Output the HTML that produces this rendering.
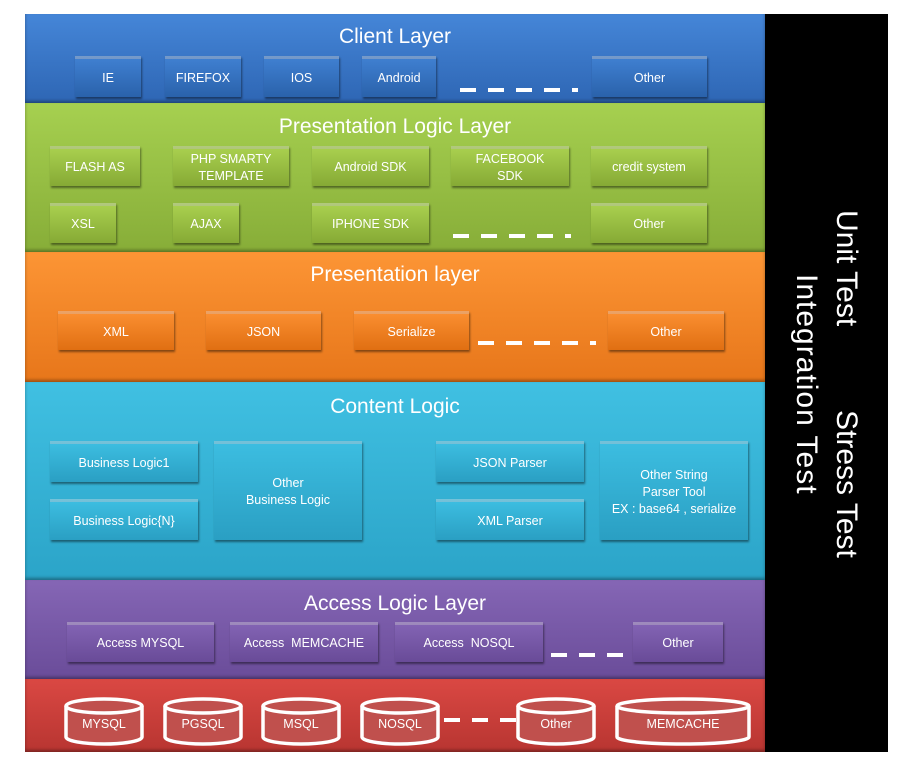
<!DOCTYPE html>
<html><head><meta charset="utf-8"><style>
body{margin:0;width:920px;height:767px;background:#fff;position:relative;overflow:hidden;font-family:"Liberation Sans",sans-serif}
.L{position:absolute;left:25px;width:740px;box-shadow:inset 0 -2px 3px rgba(0,0,0,.35)}
.t{position:absolute;left:25px;width:740px;text-align:center;color:#fff;font-size:21px}
.b{position:absolute;color:#fff;font-size:12.5px;text-align:center;display:flex;align-items:center;justify-content:center;line-height:17px;box-shadow:1px 2px 2px rgba(0,0,0,.45);border-top:3px solid rgba(255,255,255,.35)}
.blue{background:linear-gradient(#3f7fd0,#2a62ab)}
.green{background:linear-gradient(#a8cf4e,#86aa35)}
.orange{background:linear-gradient(#fa8e30,#e06f12)}
.cyan{background:linear-gradient(#3cbde0,#2a9fc3)}
.purple{background:linear-gradient(#8263b3,#694b98)}
.d{position:absolute;height:4px;background:repeating-linear-gradient(90deg,#fff 0 16px,transparent 16px 28px)}
.v{position:absolute;color:#fff;font-size:30px;white-space:nowrap;transform-origin:0 0;transform:rotate(90deg)}
</style></head><body>
<div class="L" style="top:14px;height:89px;background:linear-gradient(#4586d8,#2e66b4)"></div>
<div class="L" style="top:103px;height:149px;background:linear-gradient(#a6d050,#87ad38)"></div>
<div class="L" style="top:252px;height:130px;background:linear-gradient(#fc9535,#e7761a)"></div>
<div class="L" style="top:382px;height:198px;background:linear-gradient(#40c0e2,#2ba4c8)"></div>
<div class="L" style="top:580px;height:99px;background:linear-gradient(#8566b5,#6a4c99)"></div>
<div class="L" style="top:679px;height:73px;background:linear-gradient(#da4843,#b83531)"></div>
<div style="position:absolute;left:765px;top:14px;width:123px;height:738px;background:#000"></div>

<div class="t" style="top:25px">Client Layer</div>
<div class="t" style="top:115px">Presentation Logic Layer</div>
<div class="t" style="top:263px">Presentation layer</div>
<div class="t" style="top:395px">Content Logic</div>
<div class="t" style="top:592px">Access Logic Layer</div>

<div class="b blue" style="left:75px;top:56px;width:66px;height:38px">IE</div>
<div class="b blue" style="left:165px;top:56px;width:76px;height:38px">FIREFOX</div>
<div class="b blue" style="left:264px;top:56px;width:75px;height:38px">IOS</div>
<div class="b blue" style="left:362px;top:56px;width:74px;height:38px">Android</div>
<div class="b blue" style="left:592px;top:56px;width:115px;height:38px">Other</div>
<div class="d" style="left:460px;top:88px;width:118px"></div>

<div class="b green" style="left:50px;top:146px;width:90px;height:37px">FLASH AS</div>
<div class="b green" style="left:173px;top:146px;width:116px;height:37px">PHP SMARTY<br>TEMPLATE</div>
<div class="b green" style="left:312px;top:146px;width:117px;height:37px">Android SDK</div>
<div class="b green" style="left:451px;top:146px;width:118px;height:37px">FACEBOOK<br>SDK</div>
<div class="b green" style="left:591px;top:146px;width:116px;height:37px">credit system</div>
<div class="b green" style="left:50px;top:203px;width:66px;height:37px">XSL</div>
<div class="b green" style="left:173px;top:203px;width:66px;height:37px">AJAX</div>
<div class="b green" style="left:312px;top:203px;width:117px;height:37px">IPHONE SDK</div>
<div class="b green" style="left:591px;top:203px;width:116px;height:37px">Other</div>
<div class="d" style="left:453px;top:234px;width:118px"></div>

<div class="b orange" style="left:58px;top:311px;width:116px;height:36px">XML</div>
<div class="b orange" style="left:206px;top:311px;width:115px;height:36px">JSON</div>
<div class="b orange" style="left:354px;top:311px;width:115px;height:36px">Serialize</div>
<div class="b orange" style="left:608px;top:311px;width:116px;height:36px">Other</div>
<div class="d" style="left:478px;top:341px;width:118px"></div>

<div class="b cyan" style="left:50px;top:441px;width:148px;height:38px">Business Logic1</div>
<div class="b cyan" style="left:50px;top:499px;width:148px;height:38px">Business Logic{N}</div>
<div class="b cyan" style="left:214px;top:441px;width:148px;height:96px">Other<br>Business Logic</div>
<div class="b cyan" style="left:436px;top:441px;width:148px;height:38px">JSON Parser</div>
<div class="b cyan" style="left:436px;top:499px;width:148px;height:38px">XML Parser</div>
<div class="b cyan" style="left:600px;top:441px;width:148px;height:96px">Other String<br>Parser Tool<br>EX : base64 , serialize</div>

<div class="b purple" style="left:67px;top:622px;width:147px;height:37px">Access MYSQL</div>
<div class="b purple" style="left:230px;top:622px;width:148px;height:37px">Access &nbsp;MEMCACHE</div>
<div class="b purple" style="left:395px;top:622px;width:148px;height:37px">Access &nbsp;NOSQL</div>
<div class="b purple" style="left:633px;top:622px;width:90px;height:37px">Other</div>
<div class="d" style="left:551px;top:653px;width:72px"></div>

<svg style="position:absolute;left:0;top:0" width="920" height="767">
<g fill="#c0504d" stroke="#fff" stroke-width="3.5">
<path d="M66 706 v31 a38 7 0 0 0 76 0 v-31"/><ellipse cx="104" cy="706" rx="38" ry="7"/>
<path d="M165 706 v31 a38 7 0 0 0 76 0 v-31"/><ellipse cx="203" cy="706" rx="38" ry="7"/>
<path d="M263 706 v31 a38 7 0 0 0 76 0 v-31"/><ellipse cx="301" cy="706" rx="38" ry="7"/>
<path d="M362 706 v31 a38 7 0 0 0 76 0 v-31"/><ellipse cx="400" cy="706" rx="38" ry="7"/>
<path d="M518 706 v31 a38 7 0 0 0 76 0 v-31"/><ellipse cx="556" cy="706" rx="38" ry="7"/>
<path d="M617 706 v31 a66 7 0 0 0 132 0 v-31"/><ellipse cx="683" cy="706" rx="66" ry="7"/>
</g>
<g fill="#fff" font-family="Liberation Sans,sans-serif" font-size="12.5" text-anchor="middle">
<text x="104" y="728">MYSQL</text><text x="203" y="728">PGSQL</text><text x="301" y="728">MSQL</text>
<text x="400" y="728">NOSQL</text><text x="556" y="728">Other</text><text x="683" y="728">MEMCACHE</text>
</g>
</svg>
<div class="d" style="left:444px;top:718px;width:72px"></div>

<div class="v" style="left:863px;top:210px">Unit Test</div>
<div class="v" style="left:863px;top:410px">Stress Test</div>
<div class="v" style="left:823px;top:274px;letter-spacing:1px">Integration Test</div>
</body></html>
